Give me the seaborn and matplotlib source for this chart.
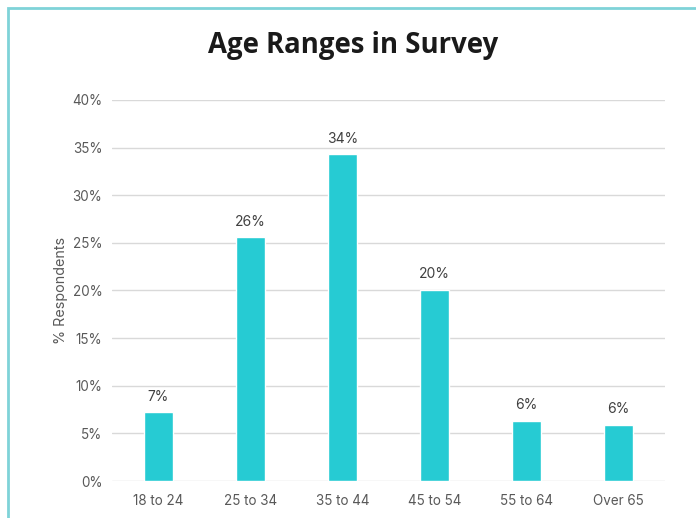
import matplotlib
matplotlib.use("Agg")
import matplotlib.pyplot as plt
from matplotlib.patches import Rectangle
from matplotlib.ticker import FuncFormatter
import seaborn as sns
import pandas as pd

age_ranges = ["18 to 24", "25 to 34", "35 to 44", "45 to 54", "55 to 64", "Over 65"]
respondents_pct = [7.2, 25.6, 34.3, 20.1, 6.3, 5.9]
y_ticks = [0, 5, 10, 15, 20, 25, 30, 35, 40]

df = pd.DataFrame({"age": age_ranges, "pct": respondents_pct})

sns.set_theme(style="white")
plt.rcParams["font.family"] = ["Inter", "DejaVu Sans"]

fig = plt.figure(figsize=(6.96, 5.18), dpi=100)
ax = fig.add_axes([0.161, 0.0714, 0.794, 0.7356])

sns.barplot(data=df, x="age", y="pct", color="#26CBD3", width=0.315,
            saturation=1, ax=ax, zorder=3)

ax.set_ylim(0, 40)
ax.set_xlim(-0.5, 5.5)
ax.set_yticks(y_ticks)
ax.yaxis.set_major_formatter(FuncFormatter(lambda v, _: f"{v:.0f}%"))
ax.grid(axis="y", color="#d9d9d9", linewidth=1, zorder=0)
for s in ax.spines.values():
    s.set_visible(False)
ax.tick_params(axis="both", length=0, labelsize=9.7, labelcolor="#595959")
ax.tick_params(axis="y", pad=7)
ax.tick_params(axis="x", pad=9)
ax.set_xlabel("")
ax.set_ylabel("% Respondents", fontsize=10.3, color="#595959", labelpad=3)

for i, v in enumerate(respondents_pct):
    ax.text(i, v + 0.9, f"{round(v)}%", ha="center", va="bottom",
            fontsize=10, color="#404040")

fig.text(0.507, 0.912, "Age Ranges in Survey", ha="center", va="center",
         fontsize=19.8, fontweight="bold", color="#1a1a1a",
         family=["Open Sans", "DejaVu Sans"])

# outer frame, open on the right and bottom
fig.patches.append(Rectangle((7.5 / 696, -0.1), 1.2, 1.1 - 8.5 / 518,
                             transform=fig.transFigure, fill=False,
                             edgecolor="#7fd3d8", linewidth=2))

fig.savefig("out.png", dpi=100)
